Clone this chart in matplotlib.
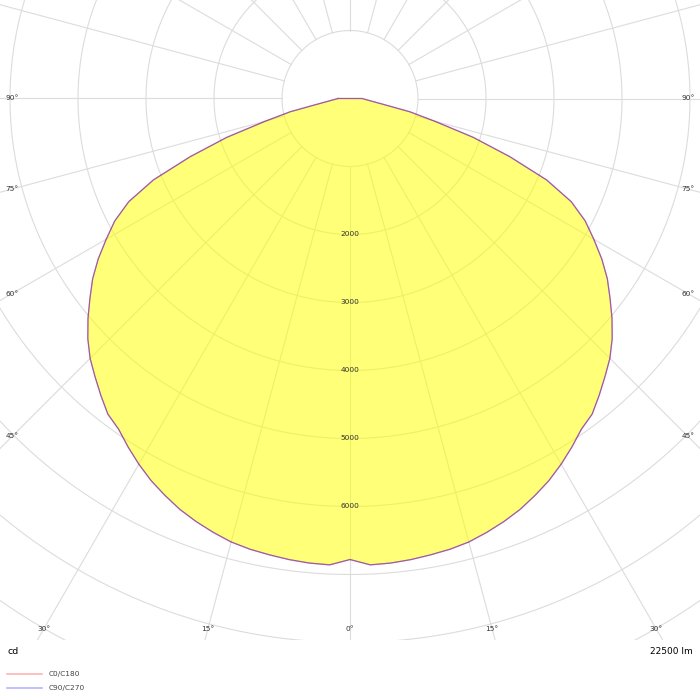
import matplotlib
matplotlib.use('Agg')
from matplotlib import pyplot as plt
from matplotlib.lines import Line2D
from matplotlib.patches import Rectangle
import numpy as np

# =============================================================================
# data: luminous intensity (cd) over gamma angle, both C-planes
# =============================================================================
gamma = [0, 2.5, 5, 7.5, 10, 12.5, 15, 17.5, 20, 22.5, 25, 27.5, 30, 32.5,
         35, 37.5, 40, 42.5, 45, 47.5, 50, 52.5, 55, 57.5, 60, 62.5, 65,
         67.5, 70, 72.5, 75, 77.5, 80, 82.5, 85, 87.5, 90]
I_c0 = [6780, 6865, 6858, 6840, 6815, 6790, 6752, 6690, 6620, 6540, 6440,
        6335, 6210, 6075, 5935, 5850, 5700, 5550, 5405, 5230, 5030, 4820,
        4620, 4390, 4140, 3900, 3590, 3130, 2500, 1900, 1290, 900, 500, 340,
        260, 210, 180]
I_c90 = list(I_c0)

ring_values = [1000, 2000, 3000, 4000, 5000, 6000, 7000, 8000, 9000, 10000]
ring_labels = [2000, 3000, 4000, 5000, 6000]
ray_angles = list(range(0, 360, 15))
bottom_labels = [-30, -15, 0, 15, 30]
side_labels = [45, 60, 75, 90]
flux_text = '22500 lm'
unit_text = 'cd'
legend_names = ['C0/C180', 'C90/C270']

# =============================================================================
# layout: pixel <-> cd mapping
# =============================================================================
W = 700
cx, cy = 350, 98.5          # pole in pixels
px_per_cd = 68 / 1000.0
clip_bottom = 640           # grid area bottom in pixels

def px(x_pix, y_pix):
    return (x_pix - cx) / px_per_cd, (cy - y_pix) / px_per_cd

fig = plt.figure(figsize=(7, 7), dpi=100)
ax = fig.add_axes([0, 0, 1, 1])
x0, y0 = px(0, 0)
x1, y1 = px(W, W)
ax.set_xlim(x0, x1)
ax.set_ylim(y1, y0)
ax.set_aspect('equal')
ax.axis('off')

cl0 = px(0, clip_bottom)
clip = Rectangle(cl0, 2 * abs(cl0[0]), y0 - cl0[1], transform=ax.transData,
                 facecolor='none', edgecolor='none')

# =============================================================================
# grid
# =============================================================================
t = np.linspace(0, 2 * np.pi, 721)
for r in ring_values:
    ln, = ax.plot(r * np.sin(t), r * np.cos(t), color='#dcdcdc',
                  lw=0.8, zorder=1)
    ln.set_clip_path(clip)
for a in ray_angles:
    ar = np.radians(a)
    ln, = ax.plot([1000 * np.sin(ar), 14000 * np.sin(ar)],
                  [-1000 * np.cos(ar), -14000 * np.cos(ar)],
                  color='#dcdcdc', lw=0.8, zorder=1)
    ln.set_clip_path(clip)

# =============================================================================
# curve
# =============================================================================
g = np.radians(np.array(gamma))
Ia = np.array(I_c0, dtype=float)
Ib = np.array(I_c90, dtype=float)

# C0 on the right, C180 on the left, closed across the top
ga = np.concatenate([-g[::-1], g, [-g[-1]]])
ia = np.concatenate([Ia[::-1], Ia, [Ia[-1]]])
gb = np.concatenate([-g[::-1], g, [-g[-1]]])
ib = np.concatenate([Ib[::-1], Ib, [Ib[-1]]])

xa, ya = ia * np.sin(ga), -ia * np.cos(ga)
xb, yb = ib * np.sin(gb), -ib * np.cos(gb)

ax.fill(xa, ya, color='#ffff00', alpha=0.53, zorder=2, lw=0)
ax.plot(xa, ya, color='#ff0000', alpha=0.45, lw=0.9, zorder=3)
ax.plot(xb, yb, color='#2020ff', alpha=0.45, lw=0.9, zorder=3)

# ring values
for v in ring_labels:
    ax.text(0, -v, str(v), ha='center', va='center', fontsize=5.3,
            color='#333333', zorder=4)

# angle labels along the frame
d_bottom = (629 - cy) / px_per_cd
for a in bottom_labels:
    ax.text(d_bottom * np.tan(np.radians(a)), -d_bottom, '%d°' % abs(a),
            ha='center', va='center', fontsize=5.3, color='#333333')
d_side = (350 - 12) / px_per_cd
for a in side_labels:
    yy = -d_side / np.tan(np.radians(a)) if a != 90 else 0
    ax.text(-d_side, yy, '%d°' % a, ha='center', va='center', fontsize=5.3,
            color='#333333')
    ax.text(d_side, yy, '%d°' % a, ha='center', va='center', fontsize=5.3,
            color='#333333')

fig.text(7 / W, 1 - 651 / W, unit_text, ha='left', va='center', fontsize=6.8,
         color='black')
fig.text(693 / W, 1 - 651 / W, flux_text, ha='right', va='center',
         fontsize=6.5, color='black')

# legend
for k, (name, col) in enumerate(zip(legend_names, ['#ffb4b4', '#b4b4ff'])):
    yl = 1 - (674 + 14 * k) / W
    fig.add_artist(Line2D([7 / W, 42 / W], [yl, yl], color=col, lw=1.2,
                          transform=fig.transFigure))
    fig.text(49 / W, yl, name, ha='left', va='center', fontsize=5.3,
             color='#444444')

fig.savefig('out.png', dpi=100)
